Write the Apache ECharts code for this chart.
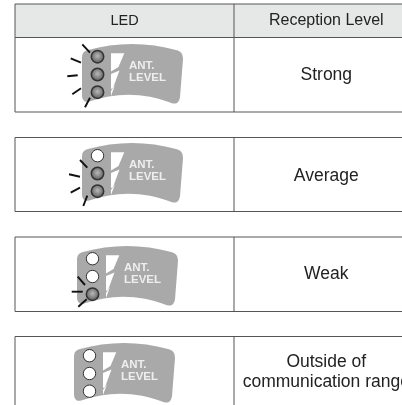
<!doctype html>
<html>
<head>
<meta charset="utf-8" />
<title>LED reception level</title>
<script src="https://cdn.jsdelivr.net/npm/echarts@6/dist/echarts.min.js"></script>
<style>
html,body{margin:0;padding:0;background:#fff;overflow:hidden}
#main{width:402px;height:405px}
</style>
</head>
<body>
<div id="main"></div>
<script>
// table content
var headers = ['LED', 'Reception Level'];
var levels = [['Strong'], ['Average'], ['Weak'], ['Outside of', 'communication range']];
var litLeds = [3, 2, 1, 0];
var badgeLines = ['ANT.', 'LEVEL'];

// layout, in page pixels
var TABLE_LEFT = 15, DIVIDER = 234, TABLE_RIGHT = 402;
var CENTER_A = 124.5, CENTER_B = 326.3;
var rowBox = [[37.5, 112], [137.5, 211.5], [237, 311.5], [336.5, 420]];
var badgeAt = [[82, 44], [82, 143], [77, 246], [74, 343]];
var headerBox = [4, 37.5];
var labelY = [[75], [176], [274], [362, 382]];
var LINE = '#555', BADGE = '#a9a9a9', BADGE_TEXT = '#eeeeee', INK = '#222222';

var BADGE_PATH = 'M0 14 C0 9 2 7 6 6 C34 -2 66 -2 94 6 C99 7 101 10 101 15 L98 53 C97 58 95 60 90 59 C62 48 34 48 8 57 C3 59 0 56 0 51 Z';
var ledSpot = [[15.5, 12.7], [15.5, 30.5], [15.5, 48.2]];
var bolts = [
  [[29, 9.3], [42.3, 9.3], [36.5, 23], [29, 27.5]],
  [[29, 30], [37.5, 26.5], [31, 44], [29, 45]],
  [[33, 41], [29, 52], [29, 47]]
];
// flash marks round the lit LEDs, relative to the badge
var rays = [
  [[[0.3, 0.3], [8, 8.7]], [[-11.3, 14.3], [-1, 18.7]], [[-14.7, 32.3], [-4.3, 31.3]], [[-9.7, 50.3], [-1, 44.3]], [[3, 63.3], [8, 53.7]]],
  [[[-2, 17], [5.3, 24.7]], [[-13, 31.3], [-2, 33.7]], [[-11.3, 49.7], [-2, 44.7]], [[1.3, 63], [5.3, 52.7]]],
  [[[0.7, 30.7], [8, 39]], [[-5.3, 45.7], [5.7, 45.7]], [[1.3, 60.7], [9.7, 53.3]]],
  []
];

function txt(api, str, x, y, size, weight, color, align) {
  var p = api.coord([x, y]);
  return {
    type: 'text',
    style: {
      text: str, x: p[0], y: p[1], fill: color || INK,
      textAlign: align || 'center', textVerticalAlign: 'middle',
      font: (weight || 'normal') + ' ' + size + 'px "Liberation Sans", Arial, sans-serif'
    }
  };
}

function ln(api, a, b, color, w) {
  var p = api.coord(a), q = api.coord(b);
  return {
    type: 'line',
    shape: { x1: p[0], y1: p[1], x2: q[0], y2: q[1] },
    style: { stroke: color, lineWidth: w }
  };
}

function drawRow(params, api) {
  var i = api.value(0), lit = api.value(1);
  var box = rowBox[i], at = badgeAt[i];
  var kids = [];
  var o = api.coord(at);

  if (i === 0) {
    var h0 = api.coord([TABLE_LEFT, headerBox[0]]), h1 = api.coord([TABLE_RIGHT, headerBox[1]]);
    kids.push({
      type: 'rect',
      shape: { x: h0[0], y: h0[1], width: h1[0] - h0[0], height: h1[1] - h0[1] },
      style: { fill: '#e6e8e7' }
    });
    kids.push(ln(api, [TABLE_LEFT, headerBox[0]], [TABLE_RIGHT, headerBox[0]], LINE, 1));
    kids.push(ln(api, [TABLE_LEFT, headerBox[0]], [TABLE_LEFT, headerBox[1]], LINE, 1));
    kids.push(ln(api, [DIVIDER, headerBox[0]], [DIVIDER, headerBox[1]], LINE, 1));
    kids.push(txt(api, headers[0], CENTER_A, 21, 14.5));
    kids.push(txt(api, headers[1], CENTER_B, 21, 16));
  }

  kids.push(ln(api, [TABLE_LEFT, box[0]], [TABLE_RIGHT, box[0]], LINE, 1));
  kids.push(ln(api, [TABLE_LEFT, box[0]], [TABLE_LEFT, box[1]], LINE, 1));
  kids.push(ln(api, [DIVIDER, box[0]], [DIVIDER, box[1]], LINE, 1));
  kids.push(ln(api, [TABLE_LEFT, box[1]], [TABLE_RIGHT, box[1]], LINE, 1));

  kids.push({
    type: 'path',
    shape: { pathData: BADGE_PATH, layout: 'cover', x: o[0], y: o[1], width: 101, height: 59.5 },
    style: { fill: BADGE }
  });

  bolts.forEach(function (b) {
    kids.push({
      type: 'polygon',
      shape: { points: b.map(function (pt) { return api.coord([at[0] + pt[0], at[1] + pt[1]]); }) },
      style: { fill: '#ffffff' }
    });
  });

  ledSpot.forEach(function (s, k) {
    var c = api.coord([at[0] + s[0], at[1] + s[1]]);
    var on = k >= 3 - lit;
    kids.push({
      type: 'circle',
      shape: { cx: c[0], cy: c[1], r: 6.2 },
      style: {
        fill: on ? new echarts.graphic.RadialGradient(0.5, 0.45, 0.55, [
          { offset: 0, color: '#b8b8b8' }, { offset: 1, color: '#555555' }
        ]) : '#ffffff',
        stroke: '#333333', lineWidth: on ? 1.5 : 1
      }
    });
  });

  rays[i].forEach(function (r) {
    kids.push(ln(api, [at[0] + r[0][0], at[1] + r[0][1]], [at[0] + r[1][0], at[1] + r[1][1]], '#111', 1.9));
  });

  kids.push(txt(api, badgeLines[0], at[0] + 47, at[1] + 21.7, 11.5, 'bold', BADGE_TEXT, 'left'));
  kids.push(txt(api, badgeLines[1], at[0] + 47, at[1] + 33.7, 11.5, 'bold', BADGE_TEXT, 'left'));

  levels[i].forEach(function (s, k) {
    kids.push(txt(api, s, CENTER_B, labelY[i][k], 17.5));
  });

  return { type: 'group', children: kids };
}

var chart = echarts.init(document.getElementById('main'), null, { renderer: 'canvas' });
chart.setOption({
  animation: false,
  backgroundColor: '#ffffff',
  grid: { left: 0, right: 0, top: 0, bottom: 0 },
  xAxis: { type: 'value', min: 0, max: 402, show: false },
  yAxis: { type: 'value', min: 0, max: 405, inverse: true, show: false },
  series: [{
    type: 'custom',
    coordinateSystem: 'cartesian2d',
    renderItem: drawRow,
    clip: true,
    silent: true,
    encode: { x: 0, y: 1 },
    data: litLeds.map(function (n, i) { return [i, n]; })
  }]
});
</script>
</body>
</html>
